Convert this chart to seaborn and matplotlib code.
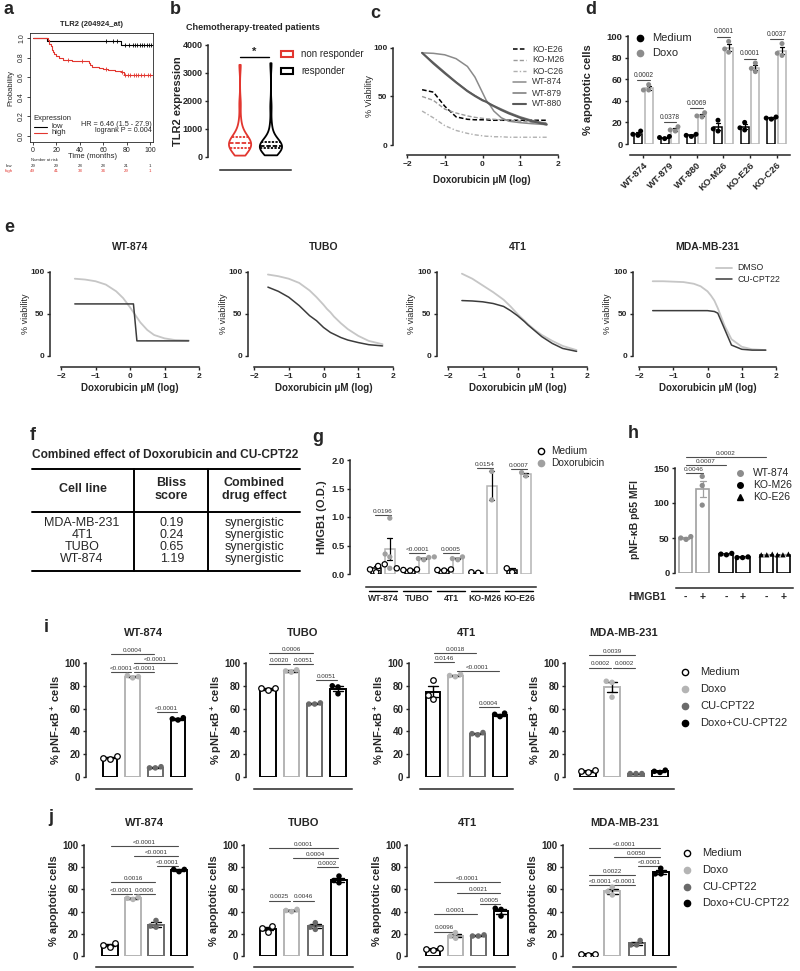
import numpy as np
import pandas as pd
import matplotlib
matplotlib.use("Agg")
import matplotlib.pyplot as plt
import matplotlib.transforms as mtrans
from matplotlib.lines import Line2D
from matplotlib.patches import Rectangle
import seaborn as sns

# ---------------- data ----------------
# a: Kaplan-Meier TLR2 (204924_at)
km_low_t = [0, 12, 75, 102]
km_low_s = [1.0, 0.965, 0.93, 0.93]
km_low_cens = [62, 68, 72, 79, 82, 85, 87, 89, 91, 93, 95, 97, 99, 101]
km_high_t = [0, 13, 14, 15, 16, 17, 18, 20, 22, 26, 33, 48, 49, 50, 56, 60, 64, 70, 75, 78, 102]
km_high_s = [1.0, 0.98, 0.94, 0.92, 0.88, 0.86, 0.84, 0.82, 0.80, 0.78, 0.76, 0.74, 0.72,
             0.70, 0.69, 0.68, 0.67, 0.66, 0.65, 0.62, 0.62]
km_high_cens = [30, 42, 62, 76, 79, 81, 83, 86, 88, 90, 92, 95, 98, 100]
risk_times = [0, 20, 40, 60, 80, 100]
risk_low = [29, 29, 28, 28, 21, 1]
risk_high = [49, 41, 38, 34, 29, 1]

# b: TLR2 expression, chemotherapy-treated patients
tlr2_non_resp = [50, 130, 200, 250, 290, 310, 330, 360, 390, 420, 450, 480, 500, 520, 550,
                 580, 610, 650, 700, 760, 850, 1000, 1300, 1900, 3290]
tlr2_resp = [60, 140, 200, 240, 270, 290, 305, 320, 340, 355, 370, 380, 390, 400, 415, 430,
             450, 480, 520, 580, 680, 850, 1150, 1800, 3350]

# c / e: dose-response (% viability) read at these log doses
DOSE_X = [-1.6, -1.3, -1.0, -0.7, -0.4, -0.2, 0.0, 0.1, 0.2, 0.3, 0.5, 0.7, 1.0, 1.3, 1.7]
c_names = ['KO-E26', 'KO-M26', 'KO-C26', 'WT-874', 'WT-879', 'WT-880']
c_ko_e26 = [57, 54.5, 40, 29, 26.5, 26, 26, 26, 25.5, 25.5, 25.5, 25.5, 25.5, 25.5, 25.5]
c_ko_m26 = [50, 46, 37, 33, 30, 28.5, 27.5, 27, 26.8, 26.5, 26, 25.5, 24.5, 23.5, 23]
c_ko_c26 = [35, 28, 20, 15, 12, 10.5, 9.5, 9, 9, 8.5, 8.5, 8, 8, 8, 8]
c_wt_874 = [95, 94.5, 93, 89, 81, 70, 54, 46, 41, 35, 28, 24.5, 23, 22, 21]
c_wt_879 = [95, 85, 75, 65, 56, 51, 46.5, 44.5, 42.5, 40.5, 37, 33.5, 29, 25.5, 22]
c_wt_880 = [95, 84, 74, 64.5, 55.5, 50.5, 46, 44.5, 42, 40, 36, 32.5, 28, 24.5, 21]

e_titles = ['WT-874', 'TUBO', '4T1', 'MDA-MB-231']
e_dmso = [
    [92, 91, 89, 85, 77, 69, 58, 52, 46, 40, 31, 25, 21, 19, 18.5],
    [97, 95, 92, 87, 78, 70, 61, 56, 52, 47, 39, 32, 24, 18, 14],
    [98, 92, 84, 76, 67, 59, 50, 46, 42, 38, 31, 25, 18, 12, 7],
    [89, 89, 88.5, 88, 86, 83, 77, 72, 66, 57, 36, 20, 11, 8, 7],
]
e_cu = [
    [62, 62, 62, 62, 62, 62, 62, 62, 18, 18, 18, 18, 18, 18, 18],
    [82, 77, 70, 60, 48, 42, 34, 31, 28, 26, 22, 19, 16, 13.5, 12],
    [66, 65.5, 64.5, 62.5, 59, 54, 48, 44.5, 41, 37, 30, 23, 15, 9, 5.5],
    [54, 54, 54, 54, 54, 54, 54, 53.5, 53, 51, 32, 13, 8, 7, 7],
]

# d: % apoptotic cells
d_cells = ['WT-874', 'WT-879', 'WT-880', 'KO-M26', 'KO-E26', 'KO-C26']
d_medium = [[12, 9, 8], [7, 6, 5], [9, 8, 7], [22, 14, 12], [20, 15, 13], [25, 24, 23]]
d_doxo = [[55, 50, 50], [16, 13, 12], [29, 26, 25], [95, 88, 85], [75, 70, 67], [93, 84, 82]]
d_p = ['0.0002', '0.0378', '0.0069', '0.0001', '0.0001', '0.0037']

# f: Bliss table
f_lines = ['MDA-MB-231', '4T1', 'TUBO', 'WT-874']
f_bliss = ['0.19', '0.24', '0.65', '1.19']
f_effect = ['synergistic', 'synergistic', 'synergistic', 'synergistic']

# g: HMGB1 (O.D.)
g_cells = ['WT-874', 'TUBO', '4T1', 'KO-M26', 'KO-E26']
g_medium = [[0.17, 0.14, 0.08, 0.03], [0.06, 0.08, 0.1, 0.07], [0.07, 0.06, 0.08], [0.02, 0.03], [0.03, 0.1]]
g_doxo = [[0.98, 0.35, 0.3, 0.1], [0.27, 0.3, 0.25, 0.29], [0.3, 0.27, 0.25], [1.8, 1.3], [1.78, 1.72]]
g_p = ['0.0196', '<0.0001', '0.0005', '0.0154', '0.0007']

# h: pNF-kB p65 MFI
h_cells = ['WT-874', 'KO-M26', 'KO-E26']
h_minus = [[48, 50, 52], [27, 28, 26], [26, 27, 26]]
h_plus = [[97, 125, 138], [22, 23, 22], [26, 27, 26]]
h_pairs = [((0, '-'), (0, '+'), '0.0046'), ((0, '-'), (1, '-'), '0.0007'), ((0, '-'), (2, '-'), '0.0002')]

# i / j
TREATS = ['Medium', 'Doxo', 'CU-CPT22', 'Doxo+CU-CPT22']
ij_titles = ['WT-874', 'TUBO', '4T1', 'MDA-MB-231']
i_vals = [
    [[16, 18, 17], [87, 88, 89], [8, 9, 8], [52, 51, 50]],
    [[76, 78, 78], [92, 94, 93], [64, 65, 64], [80, 79, 73]],
    [[85, 72, 68], [88, 89, 90], [37, 38, 39], [53, 55, 56]],
    [[4, 6, 5], [83, 70, 84], [3, 3, 3], [6, 5, 4]],
]
i_pairs = [
    [(0, 2, '0.0004'), (1, 3, '<0.0001'), (0, 1, '<0.0001'), (1, 2, '<0.0001'), (2, 3, '<0.0001')],
    [(0, 2, '0.0006'), (0, 1, '0.0020'), (1, 2, '0.0051'), (2, 3, '0.0051')],
    [(0, 2, '0.0018'), (0, 1, '0.0146'), (1, 3, '<0.0001'), (2, 3, '0.0004')],
    [(0, 2, '0.0039'), (0, 1, '0.0002'), (1, 2, '0.0002')],
]
i_heights = [[108, 100, 92, 92, 57], [109, 99, 99, 85], [109, 101, 93, 61], [107, 96, 96]]
j_vals = [
    [[8, 12, 10], [51, 53, 52], [32, 27, 26], [76, 78, 78]],
    [[25, 22, 27], [42, 40, 41], [26, 24, 30], [72, 66, 68]],
    [[5, 6, 7], [16, 21, 18], [18, 19, 18], [42, 36, 43]],
    [[1, 2, 2], [58, 55, 62], [14, 10, 10], [79, 74, 74]],
]
j_pairs = [
    [(0, 3, '<0.0001'), (1, 3, '<0.0001'), (2, 3, '<0.0001'), (0, 2, '0.0016'), (0, 1, '<0.0001'), (1, 2, '0.0006')],
    [(0, 3, '0.0001'), (1, 3, '0.0004'), (2, 3, '0.0002'), (0, 1, '0.0025'), (1, 2, '0.0046')],
    [(0, 3, '<0.0001'), (1, 3, '0.0021'), (2, 3, '0.0005'), (0, 2, '0.0001'), (0, 1, '0.0096')],
    [(0, 3, '<0.0001'), (1, 3, '0.0050'), (2, 3, '<0.0001'), (0, 2, '0.0022'), (0, 1, '<0.0001'), (1, 2, '<0.0001')],
]
j_heights = [[99, 90, 81, 67, 56, 56], [97, 88, 80, 50, 50], [67, 57, 47, 38, 22], [97, 89, 81, 73, 64, 64]]

# ---------------- style ----------------
W, H = 800, 971
RED = '#e2362f'
LGREY = '#b4b4b4'
MGREY = '#8c8c8c'
DGREY = '#6a6a6a'
BAR_COL = {'Medium': 'black', 'Doxo': LGREY, 'CU-CPT22': DGREY, 'Doxo+CU-CPT22': 'black'}
PT_COL = {'Medium': 'white', 'Doxo': LGREY, 'CU-CPT22': DGREY, 'Doxo+CU-CPT22': 'black'}

sns.set_theme(style="ticks")
plt.rcParams['font.family'] = ['Liberation Sans', 'DejaVu Sans']
plt.rcParams['mathtext.default'] = 'regular'
plt.rcParams['axes.linewidth'] = 1.1
plt.rcParams['xtick.major.width'] = 1.0
plt.rcParams['ytick.major.width'] = 1.0
plt.rcParams['xtick.major.size'] = 2.5
plt.rcParams['ytick.major.size'] = 2.5
plt.rcParams['xtick.major.pad'] = 1.5
plt.rcParams['ytick.major.pad'] = 1.5

fig = plt.figure(figsize=(8, 9.71), dpi=100)


def px_ax(x0, y0, x1, y1):
    return fig.add_axes([x0 / W, 1 - y1 / H, (x1 - x0) / W, (y1 - y0) / H])


def ftext(x, y, s, **kw):
    kw.setdefault('ha', 'center')
    kw.setdefault('va', 'center')
    return fig.text(x / W, 1 - y / H, s, **kw)


def fline(xs, ys, **kw):
    fig.add_artist(Line2D([x / W for x in xs], [1 - y / H for y in ys], transform=fig.transFigure, **kw))


def fmark(x, y, **kw):
    fig.add_artist(Line2D([x / W], [1 - y / H], transform=fig.transFigure, linestyle='none', **kw))


def prism(ax, left_px, bottom_px):
    for s in ('top', 'right'):
        ax.spines[s].set_visible(False)
    ax.spines['left'].set_position(('outward', left_px * 0.72))
    ax.spines['bottom'].set_position(('outward', bottom_px * 0.72))


def bold_ticks(ax, size):
    for t in ax.get_xticklabels() + ax.get_yticklabels():
        t.set_fontweight('bold')
        t.set_fontsize(size)


def match_line_colors(ax):
    centers = [(p.get_x() + p.get_width() / 2, p.get_edgecolor()) for p in ax.patches]
    for ln in ax.lines:
        xm = np.mean(ln.get_xdata())
        ln.set_color(min(centers, key=lambda t: abs(t[0] - xm))[1])


def panel_label(x, y, s):
    ftext(x, y, s, fontsize=13, fontweight='bold', ha='left')


# ---------------- a ----------------
panel_label(4, 9, 'a')
ax = px_ax(30, 33, 153, 142)
sns.lineplot(x=km_low_t, y=km_low_s, drawstyle='steps-post', color='black', lw=0.8, ax=ax)
sns.lineplot(x=km_high_t, y=km_high_s, drawstyle='steps-post', color=RED, lw=0.8, ax=ax)
for tt, ss, cens, col in [(km_low_t, km_low_s, km_low_cens, 'black'), (km_high_t, km_high_s, km_high_cens, RED)]:
    idx = np.searchsorted(tt, cens, side='right') - 1
    sns.scatterplot(x=cens, y=np.array(ss)[idx], marker='+', s=9, color=col, linewidth=0.6, ax=ax)
ax.set_xlim(-2.5, 102.5)
ax.set_ylim(-0.06, 1.05)
ax.set_xticks(range(0, 101, 20))
ax.set_yticks([0, 0.2, 0.4, 0.6, 0.8, 1.0])
ax.set_yticklabels(['0.0', '0.2', '0.4', '0.6', '0.8', '1.0'], rotation=90, va='center')
ax.tick_params(labelsize=5, length=2, width=0.6)
for s in ax.spines.values():
    s.set_linewidth(0.6)
ftext(92, 24, 'TLR2 (204924_at)', fontsize=5.5, fontweight='bold')
ftext(92, 156, 'Time (months)', fontsize=5.5)
ftext(11, 88, 'Probability', fontsize=5.5, rotation=90)
ftext(33, 118, 'Expression', fontsize=5.5, ha='left')
fline([34, 47], [127, 127], color='black', lw=0.8)
fline([34, 47], [133, 133], color=RED, lw=0.8)
ftext(51, 127, 'low', fontsize=5.5, ha='left')
ftext(51, 133, 'high', fontsize=5.5, ha='left')
ftext(152, 124, 'HR = 6.46 (1.5 - 27.9)', fontsize=5.2, ha='right')
ftext(152, 130, 'logrank P = 0.004', fontsize=5.2, ha='right')
trans = mtrans.blended_transform_factory(ax.transData, fig.transFigure)
ax.text(10, 1 - 160 / H, 'Number at risk', transform=trans, fontsize=3, ha='center', va='center')
ftext(9, 166, 'low', fontsize=3.2)
ftext(9, 171, 'high', fontsize=3.2, color=RED)
for t, nl, nh in zip(risk_times, risk_low, risk_high):
    ax.text(t, 1 - 166 / H, str(nl), transform=trans, fontsize=3.2, ha='center', va='center')
    ax.text(t, 1 - 171 / H, str(nh), transform=trans, fontsize=3.2, ha='center', va='center', color=RED)
ax.set_xlabel('')
ax.set_ylabel('')

# ---------------- b ----------------
panel_label(170, 9, 'b')
ax = px_ax(220, 45, 291, 157)
b_df = pd.DataFrame({'group': ['non responder'] * len(tlr2_non_resp) + ['responder'] * len(tlr2_resp),
                     'val': tlr2_non_resp + tlr2_resp})
sns.violinplot(data=b_df, x='group', y='val', hue='group', palette={'non responder': RED, 'responder': 'black'},
               fill=False, inner='quart', cut=0, width=0.72, linewidth=1.3, bw_adjust=0.7,
               legend=False, ax=ax)
ax.set_xlim(-0.65, 1.65)
ax.set_ylim(0, 4000)
ax.set_yticks(range(0, 4001, 1000))
ax.set_xticks([])
ax.set_xlabel('')
ax.set_ylabel('')
prism(ax, 12, 13)
ax.spines['left'].set_bounds(0, 4000)
bold_ticks(ax, 6.5)
ax.plot([0, 0.94], [3570, 3570], color='black', lw=1, clip_on=False)
ax.text(0.47, 3560, '*', ha='center', va='bottom', fontsize=8, fontweight='bold')
ftext(253, 27, 'Chemotherapy-treated patients', fontsize=6.5, fontweight='bold')
ftext(178, 101, 'TLR2 expression', fontsize=8, fontweight='bold', rotation=90)
for y, lab, col in [(54, 'non responder', RED), (71, 'responder', 'black')]:
    fig.add_artist(Rectangle((281 / W, 1 - (y + 3) / H), 12 / W, 6 / H, fill=False, edgecolor=col,
                             lw=1.5, transform=fig.transFigure))
    ftext(301, y, lab, fontsize=7, ha='left')

# ---------------- c ----------------
panel_label(370, 13, 'c')
ax = px_ax(407, 48, 558, 145)
c_styles = [dict(color='black', linestyle=(0, (3, 1.5)), lw=1.1),
            dict(color='#9a9a9a', linestyle=(0, (3, 1.5)), lw=1.0),
            dict(color='#b0b0b0', linestyle=(0, (3, 1.5, 1, 1.5)), lw=1.0),
            dict(color='#8a8a8a', linestyle='-', lw=1.1),
            dict(color='#777777', linestyle='-', lw=1.1),
            dict(color='#5a5a5a', linestyle='-', lw=1.5)]
for vals, st in zip([c_ko_e26, c_ko_m26, c_ko_c26, c_wt_874, c_wt_879, c_wt_880], c_styles):
    sns.lineplot(x=DOSE_X, y=vals, ax=ax, **st)
ax.set_xlim(-2, 2)
ax.set_ylim(0, 100)
ax.set_xticks([-2, -1, 0, 1, 2])
ax.set_yticks([0, 50, 100])
prism(ax, 14, 10)
bold_ticks(ax, 6)
ftext(370, 96, '% Viability', fontsize=6.5, rotation=90)
ftext(482, 180, 'Doxorubicin \u03bcM (log)', fontsize=7, fontweight='bold')
for k, (name, st) in enumerate(zip(c_names, c_styles)):
    y = 49 + 11 * k
    fline([513, 526], [y, y], **st)
    ftext(532, y, name, fontsize=6.2, ha='left', color='#333333')

# ---------------- d ----------------
panel_label(585, 10, 'd')
ax = px_ax(630, 36, 790, 144)
rows = []
for c, m, dx in zip(d_cells, d_medium, d_doxo):
    rows += [(c, 'Medium', v) for v in m] + [(c, 'Doxo', v) for v in dx]
d_df = pd.DataFrame(rows, columns=['cell', 'treat', 'val'])
sns.barplot(data=d_df, x='cell', y='val', hue='treat', order=d_cells, hue_order=['Medium', 'Doxo'],
            palette={'Medium': 'black', 'Doxo': LGREY}, fill=False, errorbar='se', capsize=0.3,
            width=0.8, gap=0.28, linewidth=1.1, err_kws={'linewidth': 0.9}, legend=False, ax=ax)
match_line_colors(ax)
sns.swarmplot(data=d_df, x='cell', y='val', hue='treat', order=d_cells, hue_order=['Medium', 'Doxo'],
              dodge=True, palette={'Medium': 'black', 'Doxo': MGREY}, size=3.6, legend=False, ax=ax)
for k, (m, dx, p) in enumerate(zip(d_medium, d_doxo, d_p)):
    top = max(max(dx), np.mean(dx) + np.std(dx, ddof=1) / np.sqrt(len(dx))) + 4
    ax.plot([k - 0.24, k + 0.24], [top, top], color='0.3', lw=0.8, clip_on=False)
    ax.text(k, top + 1.5, p, ha='center', va='bottom', fontsize=4.8, color='0.2')
ax.set_xlim(-0.5, 5.5)
ax.set_ylim(0, 100)
ax.set_yticks(range(0, 101, 20))
ax.set_xticks(range(6))
ax.set_xticklabels(d_cells)
ax.set_xlabel('')
ax.set_ylabel('')
prism(ax, 2, 11)
ax.spines['left'].set_bounds(0, 100)
bold_ticks(ax, 6.8)
ax.tick_params(axis='x', labelrotation=45)
plt.setp(ax.get_xticklabels(), ha='right', rotation_mode='anchor')
ftext(588, 90, '% apoptotic cells', fontsize=8, fontweight='bold', rotation=90)
fmark(640, 38, marker='o', ms=4.5, mfc='black', mec='black')
fmark(640, 53, marker='o', ms=4.5, mfc=MGREY, mec=MGREY)
ftext(652, 38, 'Medium', fontsize=8, ha='left')
ftext(652, 53, 'Doxo', fontsize=8, ha='left')

# ---------------- e ----------------
panel_label(4, 228, 'e')
e_boxes = [(61, 199, 50), (254, 393, 248), (448, 587, 437), (639, 776, 633)]
for title, dm, cu, (x0, x1, sx) in zip(e_titles, e_dmso, e_cu, e_boxes):
    ax = px_ax(x0, 272, x1, 356)
    sns.lineplot(x=DOSE_X, y=dm, color='#c6c6c6', lw=1.3, ax=ax)
    sns.lineplot(x=DOSE_X, y=cu, color='#3c3c3c', lw=1.1, ax=ax)
    ax.set_xlim(-2, 2)
    ax.set_ylim(0, 100)
    ax.set_xticks([-2, -1, 0, 1, 2])
    ax.set_yticks([0, 50, 100])
    prism(ax, x0 - sx, 11)
    bold_ticks(ax, 6)
    ftext((x0 + x1) / 2, 247, title, fontsize=7.5, fontweight='bold')
    ftext(sx - 25, 314, '% viability', fontsize=6.5, rotation=90)
    ftext((x0 + x1) / 2, 388, 'Doxorubicin \u03bcM (log)', fontsize=7, fontweight='bold')
fline([716, 732], [268, 268], color='#c6c6c6', lw=1.3)
fline([716, 732], [279, 279], color='#3c3c3c', lw=1.1)
ftext(737, 268, 'DMSO', fontsize=6.3, ha='left')
ftext(737, 279, 'CU-CPT22', fontsize=6.3, ha='left')

# ---------------- f ----------------
panel_label(30, 435, 'f')
ftext(32, 455, 'Combined effect of Doxorubicin and CU-CPT22', fontsize=8.6, fontweight='bold', ha='left')
fline([32, 300], [469, 469], color='black', lw=1.4)
fline([32, 300], [512, 512], color='black', lw=1.4)
fline([32, 300], [571, 571], color='black', lw=1.4)
fline([134, 134], [469, 571], color='black', lw=1.4)
fline([208, 208], [469, 571], color='black', lw=1.4)
ftext(83, 489, 'Cell line', fontsize=9, fontweight='bold')
ftext(171, 483, 'Bliss', fontsize=9, fontweight='bold')
ftext(171, 496, 'score', fontsize=9, fontweight='bold')
ftext(254, 483, 'Combined', fontsize=9, fontweight='bold')
ftext(254, 496, 'drug effect', fontsize=9, fontweight='bold')
for k, (cl, bs, ef) in enumerate(zip(f_lines, f_bliss, f_effect)):
    y = 523 + 12 * k
    ftext(82, y, cl, fontsize=9)
    ftext(172, y, bs, fontsize=9)
    ftext(255, y, ef, fontsize=9)

# ---------------- g ----------------
panel_label(312, 437, 'g')
ax = px_ax(366, 460, 536, 574)
rows = []
for c, m, dx in zip(g_cells, g_medium, g_doxo):
    rows += [(c, 'Medium', v) for v in m] + [(c, 'Doxorubicin', v) for v in dx]
g_df = pd.DataFrame(rows, columns=['cell', 'treat', 'val'])
g_ho = ['Medium', 'Doxorubicin']
sns.barplot(data=g_df, x='cell', y='val', hue='treat', order=g_cells, hue_order=g_ho,
            palette={'Medium': 'black', 'Doxorubicin': LGREY}, fill=False, errorbar='se', capsize=0.3,
            width=0.8, gap=0.25, linewidth=1.1, err_kws={'linewidth': 0.9}, legend=False, ax=ax)
match_line_colors(ax)
sns.swarmplot(data=g_df[g_df.treat == 'Doxorubicin'], x='cell', y='val', hue='treat', order=g_cells,
              hue_order=g_ho, dodge=True, palette={'Medium': 'white', 'Doxorubicin': '#a0a0a0'},
              size=3.8, legend=False, ax=ax)
sns.swarmplot(data=g_df[g_df.treat == 'Medium'], x='cell', y='val', hue='treat', order=g_cells,
              hue_order=g_ho, dodge=True, palette={'Medium': 'white', 'Doxorubicin': '#a0a0a0'},
              edgecolor='black', linewidth=0.9, size=3.8, legend=False, ax=ax)
for k, (m, dx, p) in enumerate(zip(g_medium, g_doxo, g_p)):
    top = max(max(dx), np.mean(dx) + np.std(dx, ddof=1) / np.sqrt(len(dx))) + 0.06
    ax.plot([k - 0.24, k + 0.24], [top, top], color='0.3', lw=0.8, clip_on=False)
    ax.text(k, top + 0.02, p, ha='center', va='bottom', fontsize=4.6, color='0.2')
ax.set_xlim(-0.5, 4.5)
ax.set_ylim(0, 2.0)
ax.set_yticks([0, 0.5, 1.0, 1.5, 2.0])
ax.set_yticklabels(['0.0', '0.5', '1.0', '1.5', '2.0'])
ax.set_xticks(range(5))
ax.set_xticklabels(g_cells)
ax.tick_params(axis='x', length=0, pad=5)
ax.set_xlabel('')
ax.set_ylabel('')
prism(ax, 16, 13)
ax.spines['left'].set_bounds(0, 2.0)
bold_ticks(ax, 6.8)
for t in ax.get_xticklabels():
    t.set_fontsize(6.3)
for k in range(5):
    ax.plot([k - 0.41, k + 0.41], [-0.149, -0.149], transform=ax.get_xaxis_transform(),
            color='black', lw=1, clip_on=False)
ftext(322, 517, 'HMGB1 (O.D.)', fontsize=8, fontweight='bold', rotation=90)
fmark(541, 451, marker='o', ms=4.5, mfc='white', mec='black', mew=1)
fmark(541, 463, marker='o', ms=4.5, mfc='#a0a0a0', mec='#a0a0a0')
ftext(551, 451, 'Medium', fontsize=7.3, ha='left')
ftext(551, 463, 'Doxorubicin', fontsize=7.3, ha='left')

# ---------------- h ----------------
panel_label(628, 434, 'h')
ax = px_ax(676, 468, 793, 573)
rows = []
for c, m, pl in zip(h_cells, h_minus, h_plus):
    rows += [(c, '-', v) for v in m] + [(c, '+', v) for v in pl]
h_df = pd.DataFrame(rows, columns=['cell', 'hmgb1', 'val'])
h_bar = {'WT-874': '#a0a0a0', 'KO-M26': 'black', 'KO-E26': 'black'}
h_pt = {'WT-874': MGREY, 'KO-M26': 'black', 'KO-E26': 'black'}
h_mk = {'WT-874': 'o', 'KO-M26': 'o', 'KO-E26': '^'}
sns.barplot(data=h_df, x='cell', y='val', hue='hmgb1', order=h_cells, hue_order=['-', '+'],
            palette={'-': 'black', '+': 'black'}, fill=False, errorbar='se', capsize=0.3,
            width=0.84, gap=0.22, linewidth=1.2, err_kws={'linewidth': 0.9}, legend=False, ax=ax)
bar_x = {}
for p in ax.patches:
    xc = p.get_x() + p.get_width() / 2
    k = int(round(xc))
    p.set_edgecolor(h_bar[h_cells[k]])
    bar_x[(k, '-' if xc < k else '+')] = xc
match_line_colors(ax)
for c in h_cells:
    sns.swarmplot(data=h_df[h_df.cell == c], x='cell', y='val', hue='hmgb1', order=h_cells,
                  hue_order=['-', '+'], dodge=True, palette={'-': h_pt[c], '+': h_pt[c]},
                  marker=h_mk[c], size=3.8, legend=False, ax=ax)
for (a, b, lab), h in zip(h_pairs, [143, 154, 165]):
    ax.plot([bar_x[a], bar_x[b]], [h, h], color='0.3', lw=0.8, clip_on=False)
    ax.text((bar_x[a] + bar_x[b]) / 2, h + 1.5, lab, ha='center', va='bottom', fontsize=4.6, color='0.2')
trans = mtrans.blended_transform_factory(ax.transData, fig.transFigure)
for (k, sgn), xc in bar_x.items():
    ax.text(xc, 1 - 597 / H, sgn, transform=trans, ha='center', va='center', fontsize=7.5, fontweight='bold')
ax.set_xlim(-0.45, 2.45)
ax.set_ylim(0, 150)
ax.set_yticks([0, 50, 100, 150])
ax.set_xticks([])
ax.set_xlabel('')
ax.set_ylabel('')
prism(ax, 1, 15)
ax.spines['left'].set_bounds(0, 150)
bold_ticks(ax, 6.8)
ftext(647, 597, 'HMGB1', fontsize=7.5, fontweight='bold')
ftext(635, 520, 'pNF-\u03baB p65 MFI', fontsize=7.5, fontweight='bold', rotation=90)
for y, c in zip([473, 485, 497], h_cells):
    fmark(740, y, marker=h_mk[c], ms=4, mfc=h_pt[c], mec=h_pt[c])
    ftext(753, y, c, fontsize=7.5, ha='left')


# ---------------- i / j ----------------
def treat_panel(c0, c3, y100, y0, spine_x, line_y, title, title_y, vals, pairs, heights, ylabel):
    s = (c3 - c0) / 3
    x0, x1 = c0 - 0.6 * s, c3 + 0.6 * s
    ax = px_ax(x0, y100, x1, y0)
    df = pd.DataFrame({'treat': np.repeat(TREATS, [len(v) for v in vals]), 'val': np.concatenate(vals)})
    sns.barplot(data=df, x='treat', y='val', hue='treat', order=TREATS, hue_order=TREATS, palette=BAR_COL,
                fill=False, errorbar='se', capsize=0.45, width=0.66, linewidth=1.4,
                err_kws={'linewidth': 1.0}, legend=False, ax=ax)
    match_line_colors(ax)
    sns.swarmplot(data=df[df.treat != 'Medium'], x='treat', y='val', hue='treat', order=TREATS,
                  hue_order=TREATS, palette=PT_COL, size=4, legend=False, ax=ax)
    sns.swarmplot(data=df[df.treat == 'Medium'], x='treat', y='val', order=TREATS, color='white',
                  edgecolor='black', linewidth=0.9, size=4, ax=ax)
    for (a, b, lab), h in zip(pairs, heights):
        ax.plot([a + 0.06, b - 0.06], [h, h], color='0.3', lw=0.8, clip_on=False)
        ax.text((a + b) / 2, h + 1.0, lab, ha='center', va='bottom', fontsize=4.5, color='0.2', clip_on=False)
    ax.set_xlim(-0.6, 3.6)
    ax.set_ylim(0, 100)
    ax.set_yticks(range(0, 101, 20))
    ax.set_xticks([])
    ax.set_xlabel('')
    ax.set_ylabel('')
    prism(ax, x0 - spine_x, line_y - y0)
    ax.spines['left'].set_bounds(0, 100)
    bold_ticks(ax, 7)
    ftext((c0 + c3) / 2, title_y, title, fontsize=8, fontweight='bold')
    ftext(spine_x - 30, (y100 + y0) / 2, ylabel, fontsize=8, fontweight='bold', rotation=90)


ij_x = [(110, 178, 86), (268, 338, 246), (433, 500, 409), (588, 660, 565)]
panel_label(44, 627, 'i')
for (c0, c3, sx), title, vals, pairs, hts in zip(ij_x, ij_titles, i_vals, i_pairs, i_heights):
    treat_panel(c0, c3, 663, 777, sx, 789, title, 633, vals, pairs, hts, '% pNF-\u03baB$^+$ cells')
panel_label(48, 817, 'j')
for (c0, c3, sx), title, vals, pairs, hts in zip(ij_x, ij_titles, j_vals, j_pairs, j_heights):
    treat_panel(c0, c3 + 1, 845, 956, sx - 2, 967, title, 823, vals, pairs, hts, '% apoptotic cells')


def treat_legend(xm, xt, ys):
    for t, y in zip(TREATS, ys):
        if t == 'Medium':
            fmark(xm, y, marker='o', ms=4.5, mfc='white', mec='black', mew=1)
        else:
            fmark(xm, y, marker='o', ms=4.5, mfc=PT_COL[t], mec=PT_COL[t])
        ftext(xt, y, t, ha='left', fontsize=8)


treat_legend(685, 700, [672, 689, 706, 723])
treat_legend(687, 702, [853, 870, 887, 903])

fig.savefig('out.png', dpi=100)
